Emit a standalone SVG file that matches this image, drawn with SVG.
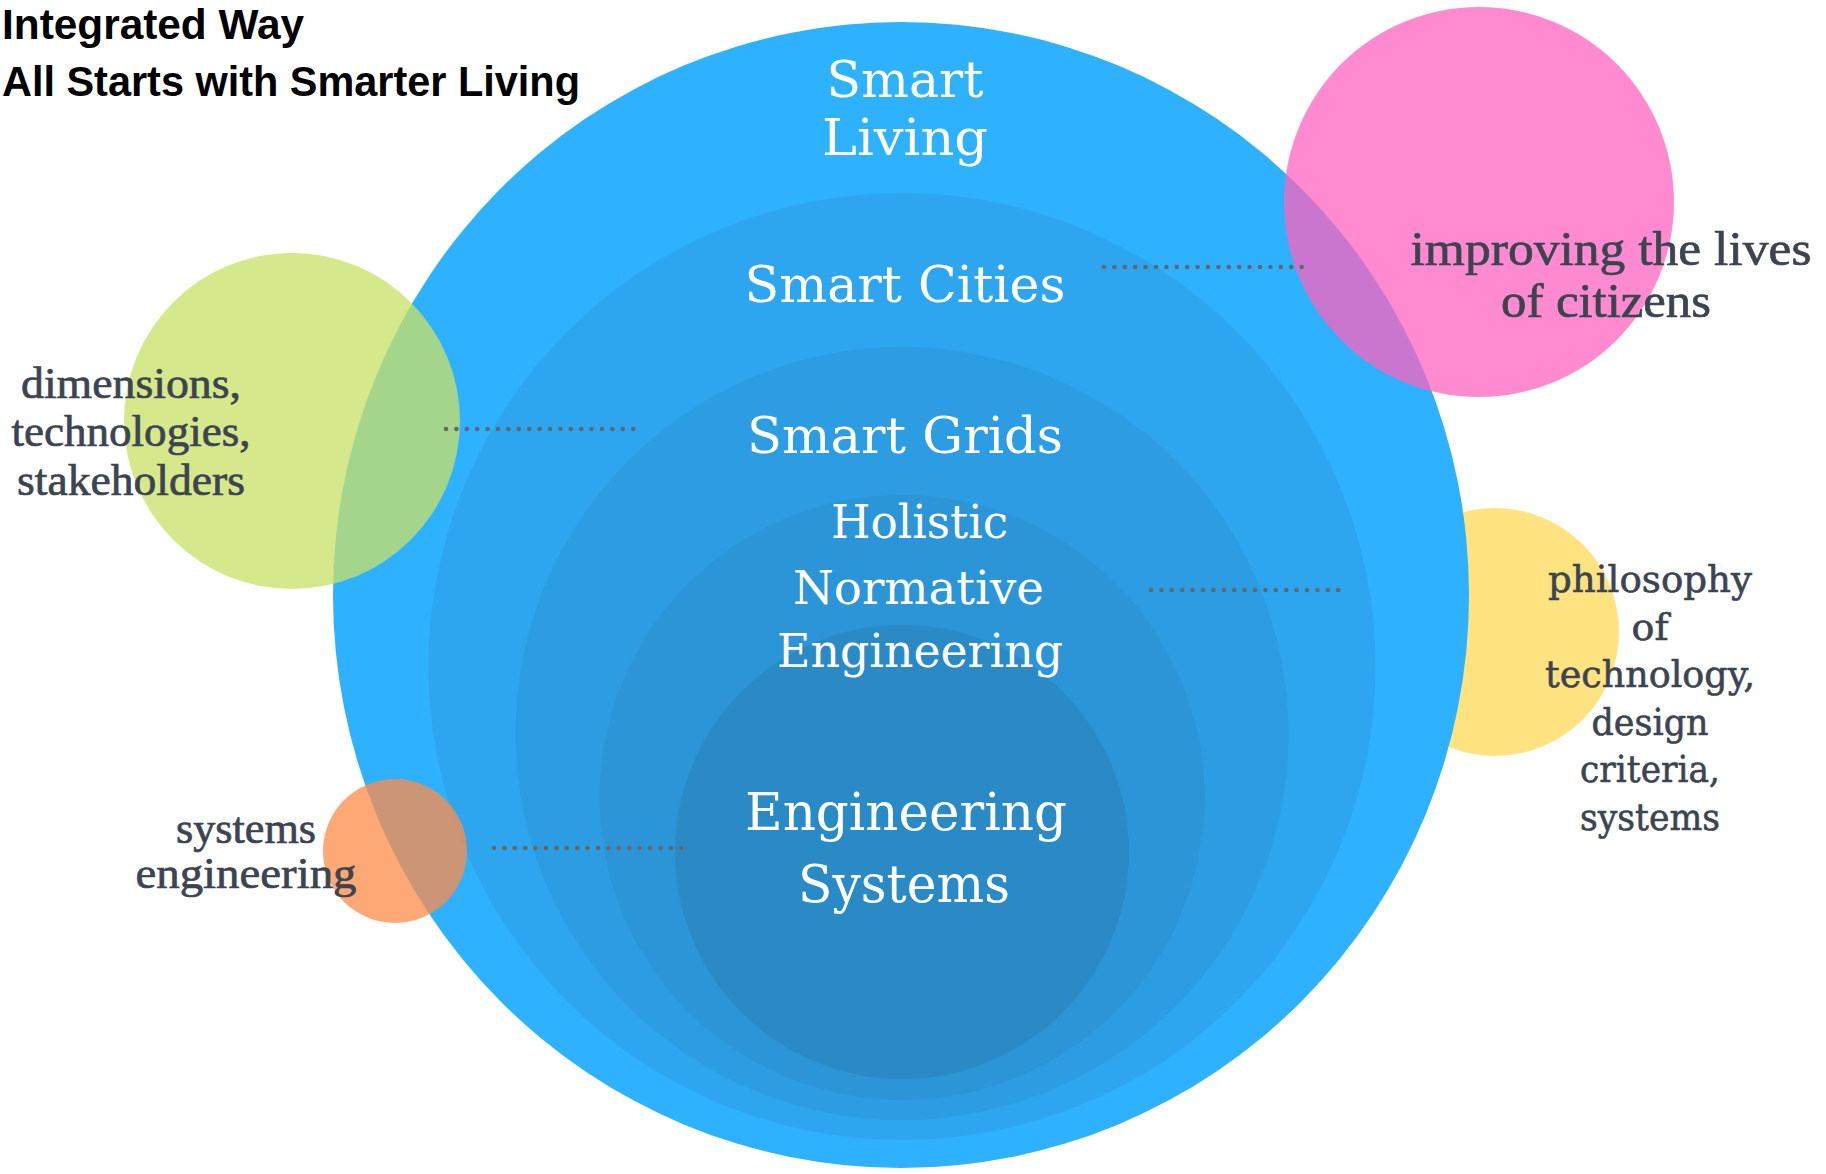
<svg xmlns="http://www.w3.org/2000/svg" width="1826" height="1174" viewBox="0 0 1826 1174">
  <style>
    .title { font-family: "Liberation Sans", Arial, sans-serif; font-weight: bold; font-size: 43px; fill: #000000; }
    .white { font-family: "DejaVu Serif", "Liberation Serif", serif; fill: #ffffff; text-anchor: middle; }
    .lbl { font-family: "Liberation Serif", "Times New Roman", serif; fill: #3d4451; stroke: #3d4451; stroke-width: 0.7; text-anchor: middle; }
    .lbl2 { font-family: "DejaVu Serif", "Liberation Serif", serif; fill: #3d4451; stroke: #3d4451; stroke-width: 0.6; text-anchor: middle; }
    .dots { stroke: #666666; stroke-width: 4.6; stroke-linecap: round; stroke-dasharray: 0 10.4; fill: none; }
  </style>
  <rect width="1826" height="1174" fill="#ffffff"/>

  <g id="title">
    <text class="title" x="2" y="39" textLength="302" lengthAdjust="spacingAndGlyphs">Integrated Way</text>
    <text class="title" x="2" y="96" textLength="578" lengthAdjust="spacingAndGlyphs">All Starts with Smarter Living</text>
  </g>

  <g id="bubble-philosophy">
    <circle cx="1495" cy="632" r="124" fill="#ffe381"/>
  </g>

  <g id="circle-smart-living">
    <ellipse cx="901" cy="595" rx="568" ry="573" fill="#2eb1fe"/>
  </g>
  <g id="circle-smart-cities">
    <circle cx="902" cy="666.5" r="473.5" fill="#2da6ef"/>
  </g>
  <g id="circle-smart-grids">
    <circle cx="902" cy="733.5" r="386.5" fill="#2c9de2"/>
  </g>
  <g id="circle-holistic">
    <circle cx="902" cy="797.5" r="302.5" fill="#2b95d7"/>
  </g>
  <g id="circle-engineering-systems">
    <circle cx="902" cy="852" r="227" fill="#2a8ac6"/>
  </g>

  <g id="bubble-citizens">
    <circle cx="1479" cy="202" r="195" fill="#ff63bf" fill-opacity="0.75"/>
  </g>
  <g id="bubble-dimensions">
    <circle cx="292" cy="421" r="168" fill="#c8e167" fill-opacity="0.76"/>
  </g>
  <g id="bubble-systems-eng">
    <circle cx="395" cy="851" r="72" fill="#fe8d4a" fill-opacity="0.76"/>
  </g>

  <g id="connectors">
    <line class="dots" x1="1104" y1="267" x2="1302" y2="267"/>
    <line class="dots" x1="446" y1="429" x2="643" y2="429"/>
    <line class="dots" x1="1151" y1="590" x2="1347" y2="590"/>
    <line class="dots" x1="494" y1="848" x2="691" y2="848"/>
  </g>

  <g id="label-smart-living">
    <text class="white" x="905" y="97" font-size="50" textLength="157" lengthAdjust="spacingAndGlyphs">Smart</text>
    <text class="white" x="905" y="155" font-size="50" textLength="166" lengthAdjust="spacingAndGlyphs">Living</text>
  </g>
  <g id="label-smart-cities">
    <text class="white" x="905" y="302" font-size="51" textLength="321" lengthAdjust="spacingAndGlyphs">Smart Cities</text>
  </g>
  <g id="label-smart-grids">
    <text class="white" x="905" y="453" font-size="51" textLength="316" lengthAdjust="spacingAndGlyphs">Smart Grids</text>
  </g>
  <g id="label-holistic">
    <text class="white" x="919.5" y="538" font-size="46" textLength="177" lengthAdjust="spacingAndGlyphs">Holistic</text>
    <text class="white" x="918.5" y="604" font-size="46" textLength="251" lengthAdjust="spacingAndGlyphs">Normative</text>
    <text class="white" x="920" y="667" font-size="46" textLength="286" lengthAdjust="spacingAndGlyphs">Engineering</text>
  </g>
  <g id="label-engineering-systems">
    <text class="white" x="906" y="830" font-size="52" textLength="322" lengthAdjust="spacingAndGlyphs">Engineering</text>
    <text class="white" x="904" y="902" font-size="52" textLength="212" lengthAdjust="spacingAndGlyphs">Systems</text>
  </g>

  <g id="label-citizens">
    <text class="lbl" x="1611" y="265" font-size="48" textLength="401" lengthAdjust="spacingAndGlyphs">improving the lives</text>
    <text class="lbl" x="1606" y="317" font-size="48" textLength="210" lengthAdjust="spacingAndGlyphs">of citizens</text>
  </g>
  <g id="label-dimensions">
    <text class="lbl" x="131" y="398" font-size="44" textLength="220" lengthAdjust="spacingAndGlyphs">dimensions,</text>
    <text class="lbl" x="131" y="446" font-size="44" textLength="239" lengthAdjust="spacingAndGlyphs">technologies,</text>
    <text class="lbl" x="131" y="495" font-size="44" textLength="228" lengthAdjust="spacingAndGlyphs">stakeholders</text>
  </g>
  <g id="label-philosophy">
    <text class="lbl2" x="1650" y="592" font-size="37" textLength="204" lengthAdjust="spacingAndGlyphs">philosophy</text>
    <text class="lbl2" x="1650" y="640" font-size="37" textLength="37" lengthAdjust="spacingAndGlyphs">of</text>
    <text class="lbl2" x="1650" y="687" font-size="37" textLength="210" lengthAdjust="spacingAndGlyphs">technology,</text>
    <text class="lbl2" x="1650" y="735" font-size="37" textLength="117" lengthAdjust="spacingAndGlyphs">design</text>
    <text class="lbl2" x="1650" y="782" font-size="37" textLength="140" lengthAdjust="spacingAndGlyphs">criteria,</text>
    <text class="lbl2" x="1650" y="830" font-size="37" textLength="140" lengthAdjust="spacingAndGlyphs">systems</text>
  </g>
  <g id="label-systems-eng">
    <text class="lbl" x="246" y="843" font-size="44" textLength="140" lengthAdjust="spacingAndGlyphs">systems</text>
    <text class="lbl" x="246" y="888" font-size="44" textLength="221" lengthAdjust="spacingAndGlyphs">engineering</text>
  </g>
</svg>
